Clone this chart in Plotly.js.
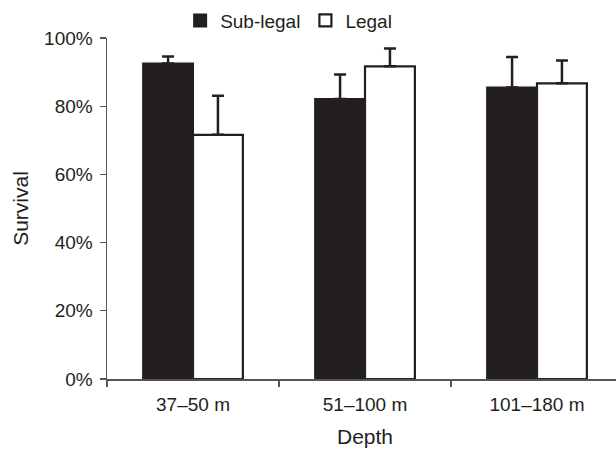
<!DOCTYPE html>
<html>
<head>
<meta charset="utf-8">
<script src="https://cdn.plot.ly/plotly-3.0.1.min.js"></script>
<style>html,body{margin:0;padding:0;background:#fff;overflow:hidden;}#wrap{width:616px;height:450px;overflow:hidden;}#chart{width:623px;height:450px;}</style>
</head>
<body>
<div id="wrap"><div id="chart"></div></div>
<script>
const categories = ["37\u201350 m", "51\u2013100 m", "101\u2013180 m"];
const subLegal = [92.5, 82.1, 85.5];
const subLegalErr = [2.1, 7.2, 8.9];
const legal = [71.6, 91.7, 86.7];
const legalErr = [11.5, 5.2, 6.7];
const yTicks = [0, 20, 40, 60, 80, 100];

const ink = "#231f20";
const zeros = categories.map(() => 0);

const traces = [
  {
    type: "bar", name: "Sub-legal", x: categories, y: subLegal,
    marker: {color: ink, line: {color: ink, width: 2}},
    error_y: {type: "data", symmetric: false, array: subLegalErr, arrayminus: zeros,
              color: ink, thickness: 2.5, width: 6}
  },
  {
    type: "bar", name: "Legal", x: categories, y: legal,
    marker: {color: "#ffffff", line: {color: ink, width: 2.2}},
    error_y: {type: "data", symmetric: false, array: legalErr, arrayminus: zeros,
              color: ink, thickness: 2.5, width: 6}
  }
];

const layout = {
  width: 623, height: 450,
  margin: {l: 107, r: 0, t: 38, b: 71},
  paper_bgcolor: "#fff", plot_bgcolor: "#fff",
  font: {family: "Liberation Sans, Arial, sans-serif", size: 19, color: ink},
  barmode: "group", bargap: 0.42, bargroupgap: 0,
  showlegend: true,
  legend: {orientation: "h", x: 0.352, xanchor: "center", y: 1.051, yanchor: "middle",
           font: {size: 19, color: ink}, itemwidth: 30, bgcolor: "rgba(0,0,0,0)"},
  xaxis: {
    type: "category", range: [-0.5, 2.5], showline: true, linecolor: "#555", linewidth: 1.5,
    ticks: "outside", tickson: "boundaries", ticklen: 6, tickcolor: "#555", tickwidth: 1.2,
    ticklabelstandoff: 8,
    showgrid: false, zeroline: false, tickfont: {size: 19, color: ink},
    title: {text: "Depth", font: {size: 21, color: ink}, standoff: 15}
  },
  yaxis: {
    range: [0, 100], tickvals: yTicks, ticktext: yTicks.map(v => v + "%"),
    showline: true, linecolor: "#555", linewidth: 1.5,
    ticks: "outside", ticklen: 6, tickcolor: "#555", tickwidth: 1.2,
    ticklabelstandoff: 3,
    showgrid: false, zeroline: false, tickfont: {size: 19, color: ink},
    title: {text: "Survival", font: {size: 21, color: ink}, standoff: 9}
  }
};

Plotly.newPlot("chart", traces, layout, {displayModeBar: false, staticPlot: true});
</script>
</body>
</html>
